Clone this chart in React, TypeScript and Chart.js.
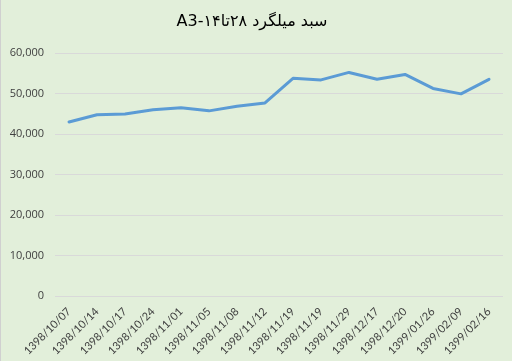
import React, { useEffect, useRef } from "react";
import { Chart, registerables } from "chart.js";

Chart.register(...registerables);

const chartTitle = "A3-سبد میلگرد ۲۸تا۱۴";

const categories = [
  "1398/10/07",
  "1398/10/14",
  "1398/10/17",
  "1398/10/24",
  "1398/11/01",
  "1398/11/05",
  "1398/11/08",
  "1398/11/12",
  "1398/11/19",
  "1398/11/19",
  "1398/11/29",
  "1398/12/17",
  "1398/12/20",
  "1399/01/26",
  "1399/02/09",
  "1399/02/16",
];

const prices = [
  43000, 44800, 45000, 46000, 46500, 45750, 46900, 47700, 53800, 53400, 55250,
  53550, 54750, 51300, 49950, 53550,
];

const yTicks = [0, 10000, 20000, 30000, 40000, 50000, 60000];

export default function App() {
  const canvasRef = useRef<HTMLCanvasElement | null>(null);

  useEffect(() => {
    const canvas = canvasRef.current;
    if (!canvas) return;
    const chart = new Chart(canvas, {
      type: "line",
      data: {
        labels: categories,
        datasets: [
          {
            data: prices,
            borderColor: "#5B9BD5",
            backgroundColor: "#5B9BD5",
            borderWidth: 3,
            pointRadius: 0,
            tension: 0,
            borderCapStyle: "round",
            borderJoinStyle: "round",
          },
        ],
      },
      options: {
        animation: false,
        responsive: false,
        maintainAspectRatio: false,
        layout: { padding: { left: 0, right: 9, top: 0, bottom: 0 } },
        plugins: {
          legend: { display: false },
          tooltip: { enabled: false },
          title: {
            display: true,
            text: chartTitle,
            color: "#000000",
            font: { family: "DejaVu Sans", size: 16, weight: "normal" },
            padding: { top: 12, bottom: 22 },
          },
        },
        scales: {
          x: {
            offset: true,
            grid: { display: false, drawTicks: false },
            border: { display: false },
            ticks: {
              color: "#404040",
              font: { family: "Lato", size: 11 },
              minRotation: 45,
              maxRotation: 45,
              autoSkip: false,
              padding: 9,
            },
            afterFit: (scale: any) => {
              scale.height = 65;
            },
          },
          y: {
            min: 0,
            max: 60000,
            afterBuildTicks: (scale: any) => {
              scale.ticks = yTicks.map((v) => ({ value: v }));
            },
            grid: { color: "#D9D9D9", lineWidth: 1, drawTicks: false },
            border: { display: false },
            ticks: {
              color: "#404040",
              font: { family: "Open Sans", size: 11 },
              padding: 11,
              callback: (v: any) => Number(v).toLocaleString("en-US"),
            },
            afterFit: (scale: any) => {
              scale.width = 54;
            },
          },
        },
      },
    });
    return () => chart.destroy();
  }, []);

  return (
    <div
      style={{
        position: "fixed",
        left: 0,
        top: 0,
        width: 512,
        height: 361,
        background: "#E2EFDA",
        borderLeft: "1px solid #D0D0D0",
        boxSizing: "border-box",
        overflow: "hidden",
      }}
    >
      <canvas ref={canvasRef} width={511} height={361} style={{ display: "block" }} />
    </div>
  );
}
